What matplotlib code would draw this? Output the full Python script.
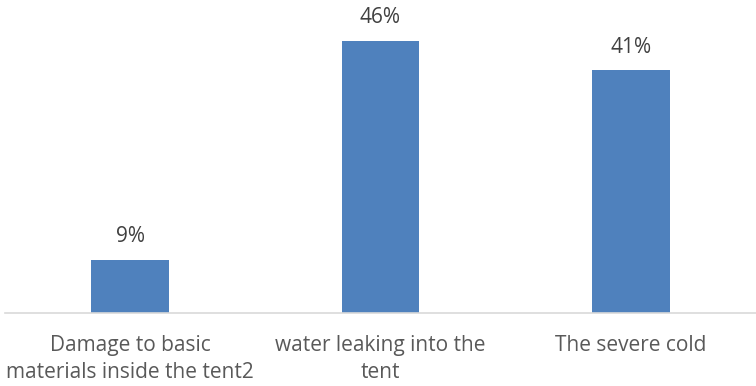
import matplotlib
matplotlib.use("Agg")
import matplotlib.pyplot as plt

categories = ["Damage to basic\nmaterials inside the tent2", "water leaking into the\ntent", "The severe cold"]
values = [9, 46, 41]
labels = ["9%", "46%", "41%"]

plt.rcParams['font.family'] = ['Open Sans', 'DejaVu Sans']
W, H = 756, 386
fig = plt.figure(figsize=(W/100, H/100), dpi=100)
ax = fig.add_axes([5/W, (H-313)/H, 751/W, 313/H])
x = range(len(categories))
ax.bar(x, values, width=0.31, color="#4F81BD")
ax.set_xlim(-0.5, 2.5)
ax.set_ylim(0, 313/5.92)
for i, (v, l) in enumerate(zip(values, labels)):
    ax.annotate(l, (i, v), xytext=(0, 16.5), textcoords="offset points", ha="center", va="center",
                fontsize=15, color="#404040", clip_on=False, annotation_clip=False)
ax.set_xticks(list(x))
ax.set_xticklabels(categories, fontsize=15, color="#595959", linespacing=1.35)
ax.tick_params(axis="x", length=0, pad=16)
ax.set_yticks([])
for s in ["top", "right", "left"]:
    ax.spines[s].set_visible(False)
ax.spines["bottom"].set_color("#D9D9D9")
ax.spines["bottom"].set_linewidth(1.2)
fig.savefig("out.png", dpi=100)
